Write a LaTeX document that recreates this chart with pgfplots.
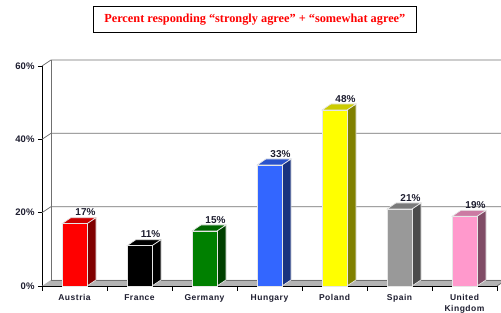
\documentclass[border=0pt]{standalone}
\usepackage{fontspec}
\setmainfont{Liberation Sans}
\newfontfamily\titlefont{Liberation Serif}
\newfontfamily\catfont[LetterSpace=6]{Liberation Sans}
\usepackage{pgfplots}
\pgfplotsset{compat=1.18}
\definecolor{labc}{HTML}{1E1E30}
\definecolor{floorc}{HTML}{B4B4B4}
\definecolor{wallc}{HTML}{707070}
\definecolor{edgec}{HTML}{E6E6E6}
\definecolor{cAus}{HTML}{FF0000}
\definecolor{cFra}{HTML}{000000}
\definecolor{cGer}{HTML}{008000}
\definecolor{cHun}{HTML}{3366FF}
\definecolor{cPol}{HTML}{FFFF00}
\definecolor{cSpa}{HTML}{999999}
\definecolor{cUK}{HTML}{FF99CC}
\pgfplotsset{
  front/.style={ybar, bar width=25pt, bar shift=0pt, fill=#1, draw=edgec, line width=0.7pt,
    nodes near coords={\pgfmathprintnumber{\pgfplotspointmeta}\%},
    every node near coord/.style={font=\bfseries\fontsize{10}{12}\selectfont, text=labc,
      anchor=south, xshift=11pt, yshift=6.3pt, inner sep=1pt}},
  side/.style={fill=#1!50!black, draw=edgec, line width=0.7pt, forget plot, mark=none},
  top/.style={fill=#1!80!black, draw=edgec, line width=0.7pt, forget plot, mark=none},
}
\begin{document}
\begin{tikzpicture}
\useasboundingbox (0pt,0pt) rectangle (501pt,313pt);
\node[draw=black, line width=0.9pt, minimum width=323pt, minimum height=26.4pt, inner sep=0pt,
  font=\titlefont\bfseries\fontsize{12.3}{14}\selectfont, text=red]
  at (254.8pt,293.5pt) {Percent responding “strongly agree” + “somewhat agree”};
\begin{axis}[
  at={(42pt,27pt)}, anchor=south west,
  scale only axis, width=455pt, height=220pt,
  xmin=-0.5, xmax=6.5, ymin=0, ymax=60,
  clip=false,
  /pgf/number format/assume math mode=true,
  axis lines*=left,
  axis line style={-, black, line width=0.8pt},
  ytick={0,20,40,60},
  yticklabels={0\%,20\%,40\%,60\%},
  tick align=outside,
  major tick length=4pt,
  ytick style={black, line width=0.8pt},
  xtick={0,...,6},
  xtick style={draw=none},
  xticklabels={Austria,France,Germany,Hungary,Poland,Spain,{United\\Kingdom}},
  xticklabel style={font=\catfont\bfseries\fontsize{8.5}{11}\selectfont, align=center, text=labc, anchor=north, yshift=-1pt},
  yticklabel style={font=\bfseries\fontsize{9.5}{11}\selectfont, text=labc},
]
% floor and back wall
\fill[floorc] (axis cs:-0.5,0) -- (axis cs:-0.3615,1.64) -- (axis cs:6.6385,1.64) -- (axis cs:6.5,0) -- cycle;
\draw[wallc, line width=0.8pt] (axis cs:-0.3615,1.64) -- (axis cs:6.6385,1.64);
\draw[wallc, line width=0.8pt] (axis cs:-0.3615,1.64) -- (axis cs:-0.3615,61.64);
\draw[wallc, line width=0.8pt] (axis cs:-0.5,20) -- (axis cs:-0.3615,21.64) -- (axis cs:6.6385,21.64);
\draw[wallc, line width=0.8pt] (axis cs:-0.5,40) -- (axis cs:-0.3615,41.64) -- (axis cs:6.6385,41.64);
\draw[wallc, line width=0.8pt] (axis cs:-0.5,60) -- (axis cs:-0.3615,61.64) -- (axis cs:6.6385,61.64);
\draw[wallc, line width=0.8pt] (axis cs:6.5,0) -- (axis cs:6.6385,1.64);
\pgfplotsinvokeforeach{-0.5,0.5,1.5,2.5,3.5,4.5,5.5,6.5}{
  \draw[black, line width=0.8pt] (axis cs:#1,0) -- ++(0pt,-5pt);
}
% Austria 17
\addplot[side=cAus] coordinates {(0.192,0) (0.331,1.64) (0.331,18.64) (0.192,17)} -- cycle;
\addplot[top=cAus] coordinates {(-0.192,17) (0.192,17) (0.331,18.64) (-0.054,18.64)} -- cycle;
\addplot[front=cAus] coordinates {(0,17)};
% France 11
\addplot[side=cFra] coordinates {(1.192,0) (1.331,1.64) (1.331,12.64) (1.192,11)} -- cycle;
\addplot[top=cFra] coordinates {(0.808,11) (1.192,11) (1.331,12.64) (0.946,12.64)} -- cycle;
\addplot[front=cFra] coordinates {(1,11)};
% Germany 15
\addplot[side=cGer] coordinates {(2.192,0) (2.331,1.64) (2.331,16.64) (2.192,15)} -- cycle;
\addplot[top=cGer] coordinates {(1.808,15) (2.192,15) (2.331,16.64) (1.946,16.64)} -- cycle;
\addplot[front=cGer] coordinates {(2,15)};
% Hungary 33
\addplot[side=cHun] coordinates {(3.192,0) (3.331,1.64) (3.331,34.64) (3.192,33)} -- cycle;
\addplot[top=cHun] coordinates {(2.808,33) (3.192,33) (3.331,34.64) (2.946,34.64)} -- cycle;
\addplot[front=cHun] coordinates {(3,33)};
% Poland 48
\addplot[side=cPol] coordinates {(4.192,0) (4.331,1.64) (4.331,49.64) (4.192,48)} -- cycle;
\addplot[top=cPol] coordinates {(3.808,48) (4.192,48) (4.331,49.64) (3.946,49.64)} -- cycle;
\addplot[front=cPol] coordinates {(4,48)};
% Spain 21
\addplot[side=cSpa] coordinates {(5.192,0) (5.331,1.64) (5.331,22.64) (5.192,21)} -- cycle;
\addplot[top=cSpa] coordinates {(4.808,21) (5.192,21) (5.331,22.64) (4.946,22.64)} -- cycle;
\addplot[front=cSpa] coordinates {(5,21)};
% United Kingdom 19
\addplot[side=cUK] coordinates {(6.192,0) (6.331,1.64) (6.331,20.64) (6.192,19)} -- cycle;
\addplot[top=cUK] coordinates {(5.808,19) (6.192,19) (6.331,20.64) (5.946,20.64)} -- cycle;
\addplot[front=cUK] coordinates {(6,19)};
\end{axis}
\end{tikzpicture}
\end{document}
